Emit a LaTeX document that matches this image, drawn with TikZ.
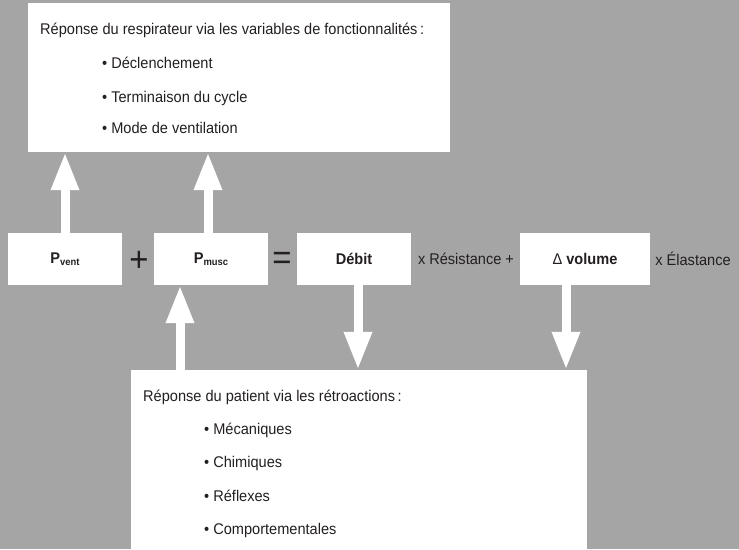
\documentclass[tikz,border=0pt]{standalone}
\usepackage{fontspec}
\setmainfont{Liberation Sans}[FakeStretch=0.94]
\usetikzlibrary{arrows.meta,positioning,calc}
\definecolor{panelgray}{RGB}{165,165,165}
\definecolor{inkdark}{RGB}{35,31,32}
\tikzset{
  whitebox/.style={fill=white, draw=none, inner sep=0pt},
  termbox/.style={fill=white, inner sep=0pt, minimum height=52pt,
    font=\fontsize{15.5}{17}\selectfont\bfseries, text=inkdark},
  bigarrow/.style={draw=white, line width=9pt, -{Triangle[length=38pt, width=26pt]}},
  listtext/.style={anchor=base west, inner sep=0pt,
    font=\fontsize{15.5}{17}\selectfont, text=inkdark},
  optext/.style={inner sep=0pt, font=\fontsize{35}{35}\selectfont, text=inkdark},
  eqtext/.style={inner sep=0pt, font=\fontsize{15.5}{17}\selectfont, text=inkdark},
}
\newcommand{\subtxt}[1]{\raisebox{-0.3ex}{\fontsize{10}{10}\selectfont #1}}

\begin{document}
\begin{tikzpicture}[x=1pt, y=-1pt]

      %% ---- background ----
      \useasboundingbox (0,0) rectangle (739,549);
      \fill[panelgray] (0,0) rectangle (739,549);

      %% ---- respirateur box ----
      \node[whitebox, minimum width=422pt, minimum height=149pt] (resp) at (239,77.5) {};
      \node[listtext] (resptitle) at (40,34)
           {Réponse du respirateur via les variables de fonctionnalités\,:};
      \foreach \ly/\lbl in {68/Déclenchement, 102/{Terminaison du cycle}, 133/{Mode de ventilation}}{
        \node[listtext] at (102,\ly) {\textbullet\ \lbl};}

      %% ---- equation row ----
      \node[termbox, minimum width=114pt] (pvent) at (65,259) {P\subtxt{vent}};
      \node[optext] (plus) at (139,261) {+};
      \node[termbox, minimum width=114pt] (pmusc) at (211,259) {P\subtxt{musc}};
      \node[optext] (equals) at (282,261) {=};
      \node[termbox, minimum width=114pt] (debit) at (354,259) {Débit};
      \node[eqtext] (resist) at (466,259) {x Résistance +};
      \node[termbox, minimum width=130pt] (dvol) at (585,259) {{\mdseries Δ} volume};
      \node[eqtext] (elast) at (693,259) {x Élastance};

      %% ---- patient box ----
      \node[whitebox, minimum width=456pt, minimum height=179pt] (patient) at (359,459.5) {};
      \node[listtext] (pattitle) at (143,401) {Réponse du patient via les rétroactions\,:};
      \foreach \ly/\lbl in {434/Mécaniques, 467/Chimiques, 501/Réflexes, 534/Comportementales}{
        \node[listtext] at (204,\ly) {\textbullet\ \lbl};}

      %% ---- arrows ----
      \draw[bigarrow] (pvent.north) -- (pvent.north |- resp.south);
      \draw[bigarrow] ([xshift=-3pt]pmusc.north) -- ([xshift=-3pt]pmusc.north |- resp.south);
      \draw[bigarrow] ([xshift=-31pt]pmusc.south |- patient.north) -- ([xshift=-31pt]pmusc.south);
      \draw[bigarrow] ([xshift=4pt]debit.south) -- ([xshift=4pt]debit.south |- patient.north);
      \draw[bigarrow] ([xshift=-19pt]dvol.south) -- ([xshift=-19pt]dvol.south |- patient.north);
      \end{tikzpicture}
\end{document}
